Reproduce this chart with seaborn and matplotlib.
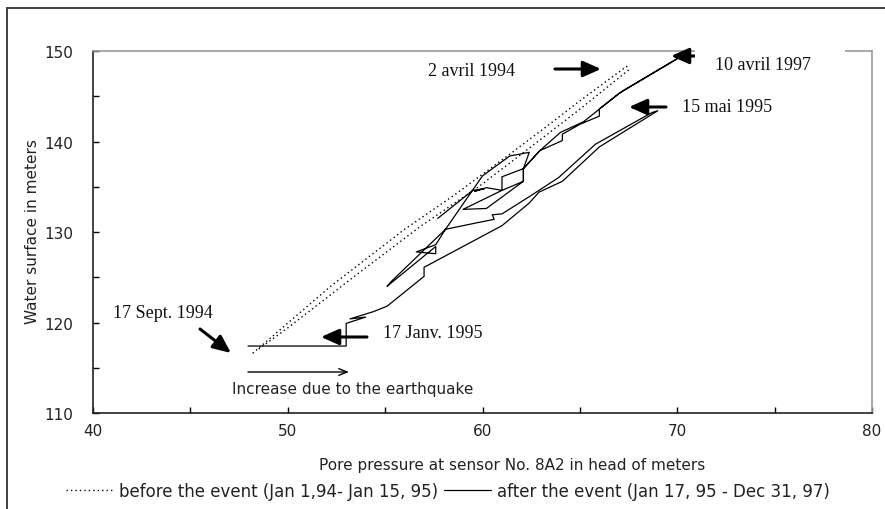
import numpy as np
import pandas as pd
import matplotlib
matplotlib.use("Agg")
import matplotlib.pyplot as plt
import matplotlib.patches as mpatches
from matplotlib.lines import Line2D
import seaborn as sns

# ---- data ----
before_x = [48.2, 49.5, 52.2, 56.0, 58.5, 61.4, 63.5, 65.0, 67.4,
            67.5, 64.9, 62.3, 59.8, 56.8, 53.3, 50.0, 48.4]
before_y = [116.6, 119.0, 124.0, 130.3, 134.0, 138.6, 142.0, 144.5, 148.3,
            147.9, 143.4, 139.1, 135.0, 130.6, 124.9, 119.4, 116.9]

after_x = [47.96, 53.0, 53.0, 54.0, 53.2, 54.4, 55.1, 57.0, 57.0, 61.0,
           62.4, 62.9, 64.1, 66.0, 69.0, 68.7, 65.8, 63.9, 62.4, 61.0,
           60.5, 60.6, 59.9, 58.1, 57.6, 56.6, 57.6, 57.6, 55.1, 55.3,
           58.1, 60.0, 61.4, 62.4, 62.1, 62.1, 61.0, 61.0, 62.1, 62.95,
           64.1, 64.1, 65.0, 66.0, 66.0, 67.2, 70.1, 69.9, 67.0, 65.2,
           64.0, 62.95, 62.1, 62.1, 60.2, 59.0, 61.0, 60.2, 59.6, 60.1,
           59.5, 57.7]
after_y = [117.4, 117.4, 119.9, 120.6, 120.4, 121.2, 121.8, 125.1, 126.1, 130.7,
           133.2, 134.4, 135.6, 139.4, 143.4, 143.2, 139.7, 136.0, 133.9, 132.0,
           131.9, 131.4, 131.1, 130.3, 128.6, 127.8, 127.6, 128.4, 124.0, 124.5,
           130.3, 136.2, 138.4, 138.8, 137.0, 135.6, 134.6, 136.1, 137.0, 139.0,
           140.1, 140.8, 141.9, 142.8, 143.6, 145.6, 149.3, 149.0, 145.3, 142.2,
           141.0, 139.0, 137.0, 135.6, 132.6, 132.5, 134.6, 134.9, 134.5, 134.8,
           134.6, 131.5]

x_ticks = [40, 50, 60, 70, 80]
y_ticks = [110, 120, 130, 140, 150]

x_label = "Pore pressure at sensor No. 8A2 in head of meters"
y_label = "Water surface in meters"
before_label = "before the event (Jan 1,94- Jan 15, 95)"
after_label = "after the event (Jan 17, 95 - Dec 31, 97)"

# ---- figure ----
sns.set_theme(style="white")
plt.rcParams['font.family'] = ['DejaVu Sans']
W, H = 885, 510
fig = plt.figure(figsize=(W / 100, H / 100), dpi=100)

def fp(x, y):
    """top-origin pixel -> figure fraction"""
    return (x / W, 1 - y / H)

ax = fig.add_axes([93 / W, 1 - 414 / H, (872 - 93) / W, (414 - 52) / H])

sns.lineplot(x=before_x, y=before_y, sort=False, estimator=None, ax=ax,
             color='black', linewidth=1.0, linestyle=(0, (1, 2.2)))
sns.lineplot(x=after_x, y=after_y, sort=False, estimator=None, ax=ax,
             color='black', linewidth=0.9)

ax.set_xlim(40, 80)
ax.set_ylim(110, 150)
ax.set_xticks(x_ticks)
ax.set_yticks(y_ticks)
ax.set_xticks([45, 55, 65, 75], minor=True)
ax.set_yticks([115, 125, 135, 145], minor=True)
ax.tick_params(axis='both', which='both', direction='in', length=4,
               width=1, color='black', labelsize=11, bottom=True, left=True,
               labelcolor='#222222')
ax.tick_params(axis='x', pad=7)
ax.tick_params(axis='y', pad=14)
for s in ['left', 'bottom']:
    ax.spines[s].set_color('#222222')
    ax.spines[s].set_linewidth(1.2)
for s in ['top', 'right']:
    ax.spines[s].set_color('#999999')
    ax.spines[s].set_linewidth(1.2)

fig.text(33 / W, 1 - 232 / H, y_label, rotation=90, ha='center', va='center',
         fontsize=11, color='#222222')
fig.text(*fp(512, 466), x_label, ha='center', va='center', fontsize=11,
         color='#222222')

# white label box that interrupts the top border
fig.patches.append(mpatches.Rectangle(fp(695, 78), 150 / W, 40 / H,
                                      transform=fig.transFigure,
                                      facecolor='white', edgecolor='none',
                                      zorder=3))

serif = ['Liberation Serif', 'DejaVu Serif']
def label(txt, x, y, ha='left'):
    fig.text(*fp(x, y), txt, family=serif, fontsize=13, ha=ha, va='center',
             zorder=5, color='#111111')

def arrow(tail, tip, lw=2.2, style='-|>,head_length=0.9,head_width=0.4'):
    ax.annotate('', xy=fp(*tip), xytext=fp(*tail), xycoords='figure fraction',
                textcoords='figure fraction',
                arrowprops=dict(arrowstyle=style, lw=lw, color='black',
                                shrinkA=0, shrinkB=0), zorder=6)

label("2 avril 1994", 515, 72, ha='right')
arrow((555, 70), (601, 70))
label("10 avril 1997", 715, 66)
arrow((706, 57), (671, 57))
label("15 mai 1995", 682, 108)
arrow((666, 108), (629, 108))
label("17 Sept. 1994", 213, 314, ha='right')
arrow((200, 330), (231, 354))
label("17 Janv. 1995", 383, 334)
arrow((367, 338), (321, 338))

arrow((248, 373), (349, 373), lw=1.0, style='->,head_length=0.5,head_width=0.2')
fig.text(*fp(232, 390), "Increase due to the earthquake", fontsize=11,
         ha='left', va='center', color='#222222')

# legend
handles = [Line2D([], [], color='black', lw=1.0, linestyle=(0, (1, 2.2))),
           Line2D([], [], color='black', lw=0.9)]
fig.legend(handles, [before_label, after_label], loc='center',
           bbox_to_anchor=fp(448, 492), ncol=2, frameon=False, fontsize=12,
           handlelength=2.8, handletextpad=0.35, columnspacing=0.4,
           borderpad=0, borderaxespad=0, labelcolor='#222222')

# outer frame (extends past right/bottom edge)
fig.patches.append(mpatches.Rectangle((7 / W, -0.2), 2.0, 1.2 - 9 / H,
                                      transform=fig.transFigure, fill=False,
                                      edgecolor='#333333', linewidth=1.3))

fig.savefig("out.png", dpi=100)
